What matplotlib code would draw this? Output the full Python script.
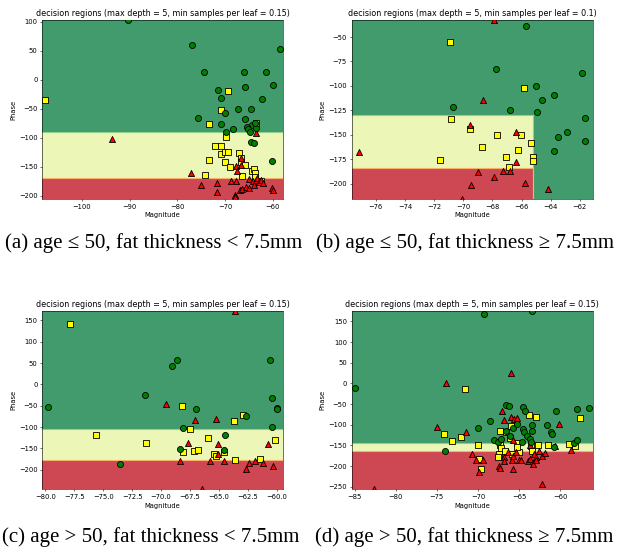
import matplotlib
matplotlib.use("Agg")
import matplotlib.pyplot as plt

# ------------------------------------------------------------
# DATA
# class "low"  -> yellow squares, "high" -> red triangles, "ok" -> green circles
# ------------------------------------------------------------

# (a) age <= 50, fat thickness < 7.5mm
a_sq_x = [-107.8, -69.4, -70.9, -73.4, -63.6, -69.7, -72.1, -70.9, -70.9, -69.9, -69.3, -73.4, -70.1,
          -68.9, -67.1, -66.6, -66.6, -65.9, -66.4, -74.1, -64.3, -64.0, -63.8, -63.8, -62.4]
a_sq_y = [-34.5, -19, -52.3, -76.4, -74, -98.9, -113.8, -113.8, -128.7, -124.7, -124, -139, -142.5,
          -150, -127, -135, -142.5, -146.6, -166.7, -165, -157, -154.6, -161.5, -167, -174.7]
a_tri_x = [-93.6, -77.1, -75.1, -71.7, -71.6, -68.7, -67.6, -67.6, -67.4, -66.7, -66.7, -66.9, -67.8,
           -67.8, -66.4, -65.6, -64.9, -64.9, -64.2, -63.9, -63.5, -63.4, -63.2, -62.8, -62.5, -62.0,
           -60.2, -59.9]
a_tri_y = [-103, -160, -182, -178, -193, -174.7, -174.7, -149, -157.5, -135, -147, -191, -199,
           -201.7, -189, -184.5, -171, -186, -174.7, -181, -92, -173, -170, -176, -173, -177.6,
           -187, -190]
a_circ_x = [-90.4, -76.9, -74.5, -58.4, -66.1, -61.5, -59.9, -65.9, -71.5, -70.8, -62.2, -67.2, -64.5,
            -70.1, -75.6, -65.8, -70.9, -64.4, -65.3, -65.1, -64.8, -63.4, -63.8, -68.3, -69.7,
            -64.5, -63.9, -60.2]
a_circ_y = [103, 59.2, 13.8, 53.4, 12.6, 12.6, -8.6, -12, -17.8, -31, -32.8, -51, -51,
            -58, -66, -68.4, -76.4, -78.7, -82, -85.6, -89.7, -82.8, -74, -85, -89.7,
            -107, -108.6, -140]
a_cut = [-90.7, -169.0]          # green / yellow / red thresholds on phase

# (b) age <= 50, fat thickness >= 7.5mm
b_sq_x = [-70.88, -65.83, -70.81, -69.51, -67.7, -66.01, -68.69, -66.22, -65.35, -71.59, -67.09,
          -65.23, -65.23, -66.88]
b_sq_y = [-55.5, -101.8, -133.9, -144.1, -149.9, -149.9, -162.9, -165.9, -158.8, -176.2, -172.7,
          -172.7, -177.2, -183.3]
b_tri_x = [-67.91, -68.66, -77.14, -69.51, -66.4, -66.4, -68.96, -67.29, -66.79, -67.91, -69.44,
           -65.74, -64.16, -70.1]
b_tri_y = [-32.6, -114.4, -167.6, -140.4, -146.8, -178.2, -188.1, -187.4, -187.4, -193.2, -201,
           -199.7, -205.1, -215.5]
b_circ_x = [-65.71, -67.77, -65.03, -61.87, -64.57, -63.75, -70.72, -66.79, -64.91, -61.62, -62.9,
            -63.47, -61.62, -63.75]
b_circ_y = [-39.1, -83.1, -100.1, -87.2, -114.8, -109.7, -121.6, -125, -127, -133.2, -147.2,
            -152.6, -156.7, -166.6]
b_cut = [-129.4, -184.3]
b_cut_mag = -65.23               # right of this magnitude everything is green

# (c) age > 50, fat thickness < 7.5mm
c_sq_x = [-77.87, -68.16, -67.5, -75.6, -71.3, -65.94, -68.1, -67.2, -66.8, -65.44, -65.26, -64.55,
          -63.7, -62.9, -63.6, -61.44, -60.2]
c_sq_y = [142.2, -51.2, -104.3, -118.3, -137.8, -125.4, -158.9, -156.6, -153.4, -162.8, -168.3,
          -158.1, -84.8, -71.5, -176.8, -174.5, -130]
c_tri_x = [-63.6, -69.57, -67.1, -65.3, -67.7, -65.1, -65.07, -68.33, -65.8, -64.55, -62.71, -62.4,
           -61.85, -61.24, -60.75, -60.3, -66.5]
c_tri_y = [171.5, -45.8, -83.2, -80.1, -137.8, -139.4, -163.6, -180, -178.4, -179.2, -197.1, -184.6,
           -178.4, -184.6, -139.4, -191.6, -245.5]
c_circ_x = [-79.74, -71.38, -68.67, -69.05, -66.97, -68.1, -68.36, -64.47, -64.55, -62.71, -60.58,
            -60.46, -60.0, -60.0, -60.46, -73.51]
c_circ_y = [-53.6, -24.7, 56.4, 43.1, -56.7, -101.2, -151.9, -119.1, -152.7, -73.9, 58,
            -32.5, -54.4, -56.7, -98.8, -186.2]
c_cut = [-103.5, -177.6]

# (d) age > 50, fat thickness >= 7.5mm
d_sq_x = [-71.53, -63.77, -62.88, -57.52, -74.12, -73.1, -72.1, -69.98, -69.86, -69.66, -67.26,
          -66.58, -66.0, -67.26, -67.18, -66.66, -67.43, -67.55, -66.05, -65.2, -65.04, -65.28,
          -65.88, -63.57, -63.37, -62.64, -61.46, -58.86, -58.21]
d_sq_y = [-13.4, -77.1, -81.1, -83.5, -122.1, -139, -128.6, -148.7, -182.5, -206.7, -114.9,
          -118.1, -103.6, -149.5, -156.8, -164, -171.3, -176.9, -132.6, -144.7, -164.8, -154.3,
          -171.3, -150.3, -162.4, -149.5, -149.5, -147.1, -151.1]
d_tri_x = [-73.92, -65.97, -74.93, -71.4, -67.02, -66.8, -66.0, -65.56, -65.28, -60.08, -60.57,
           -58.7, -62.2, -70.71, -70.27, -69.33, -69.9, -67.47, -67.3, -66.8, -66.77, -65.88,
           -65.68, -66.33, -65.68, -65.76, -65.35, -65.0, -64.75, -63.85, -63.6, -63.29, -63.17,
           -62.96, -62.88, -62.52, -62.19, -61.78, -63.65, -82.6]
d_tri_y = [1.9, 25.2, -105.2, -116.5, -66.6, -88.3, -80.3, -86.7, -84.3, -98.8, -150.3,
           -160, -243.7, -169.6, -185.7, -184.9, -213.9, -198.6, -203.5, -176.9, -187.4, -184.9,
           -206.7, -166.4, -174.5, -137.4, -164.8, -184.9, -184.9, -187.4, -182.5, -194.6, -170.5,
           -176.9, -184.9, -162.4, -174.5, -167.2, -148.7, -255.5]
d_circ_x = [-84.92, -69.25, -63.41, -74.04, -69.98, -68.48, -68.1, -67.6, -67.2, -66.58, -66.25,
            -66.6, -66.05, -65.7, -65.2, -64.55, -64.3, -64.55, -64.4, -64.06, -63.65, -63.4,
            -63.37, -63.5, -64.6, -61.54, -61.1, -60.97, -60.53, -60.7, -58.25, -57.89, -57.89,
            -56.5]
d_circ_y = [-11.8, 166.9, 174.5, -162.4, -107.7, -90.7, -137.4, -142.3, -133.4, -52.1, -53.7,
            -114.9, -127, -108.5, -97.2, -57.7, -65.8, -110.1, -117.3, -126.2, -133.4, -99.6,
            -115.7, -140.7, -141.5, -101.2, -116.5, -122.9, -67.4, -154.3, -143.9, -137.4, -61,
            -59.3]
d_cut = [-144.7, -163.2]

captions = [
    "(a) age \u2264 50, fat thickness < 7.5mm",
    "(b) age \u2264 50, fat thickness \u2265 7.5mm",
    "(c) age > 50, fat thickness < 7.5mm",
    "(d) age > 50, fat thickness \u2265 7.5mm",
]
titles = [
    "decision regions (max depth = 5, min samples per leaf = 0.15)",
    "decision regions (max depth = 5, min samples per leaf = 0.1)",
    "decision regions (max depth = 5, min samples per leaf = 0.15)",
    "decision regions (max depth = 5, min samples per leaf = 0.15)",
]

# ------------------------------------------------------------
# STYLE
# ------------------------------------------------------------
GREEN_BG = "#419b6c"
YELLOW_BG = "#ecf6b6"
RED_BG = "#ce4853"

fig = plt.figure(figsize=(6.19, 5.51), dpi=100)

positions = [
    [0.0683, 0.6388, 0.3884, 0.3249],
    [0.5682, 0.6388, 0.3893, 0.3249],
    [0.0683, 0.1120, 0.3884, 0.3236],
    [0.5682, 0.1120, 0.3893, 0.3236],
]
limits = [
    ((-108.3, -57.9), (-205.7, 102.9)),
    ((-77.65, -61.12), (-215.7, -32.6)),
    ((-80.26, -59.5), (-245.5, 171.8)),
    ((-85.37, -56.02), (-255.8, 175.0)),
]
xticks = [range(-100, -59, 10), range(-76, -61, 2),
          [-80.0, -77.5, -75.0, -72.5, -70.0, -67.5, -65.0, -62.5, -60.0], range(-85, -59, 5)]
yticks = [range(-200, 101, 50), range(-200, -49, 25), range(-200, 151, 50), range(-250, 151, 50)]

panels = [
    (a_sq_x, a_sq_y, a_tri_x, a_tri_y, a_circ_x, a_circ_y, a_cut, None),
    (b_sq_x, b_sq_y, b_tri_x, b_tri_y, b_circ_x, b_circ_y, b_cut, b_cut_mag),
    (c_sq_x, c_sq_y, c_tri_x, c_tri_y, c_circ_x, c_circ_y, c_cut, None),
    (d_sq_x, d_sq_y, d_tri_x, d_tri_y, d_circ_x, d_circ_y, d_cut, None),
]

for i, (sx, sy, tx, ty, cx, cy, cut, cut_mag) in enumerate(panels):
    ax = fig.add_axes(positions[i])
    (x0, x1), (y0, y1) = limits[i]
    xe = x1 if cut_mag is None else cut_mag

    # decision regions
    ax.fill_between([x0, x1], cut[0], y1, color=GREEN_BG, lw=0)
    if cut_mag is not None:
        ax.fill_between([cut_mag, x1], y0, y1, color=GREEN_BG, lw=0)
    ax.fill_between([x0, xe], cut[1], cut[0], color=YELLOW_BG, lw=0)
    ax.fill_between([x0, xe], y0, cut[1], color=RED_BG, lw=0)
    ax.plot([x0, xe], [cut[0], cut[0]], color="#8fd08a", lw=0.8)
    ax.plot([x0, xe], [cut[1], cut[1]], color="#f6b26b", lw=0.8)
    if cut_mag is not None:
        ax.plot([cut_mag, cut_mag], [y0, cut[0]], color="#8fd08a", lw=0.8)
        ax.plot([cut_mag, cut_mag], [y0, cut[1]], color="#f6b26b", lw=0.8)

    # samples
    kw = dict(s=19, edgecolors="black", linewidths=0.6, zorder=3, clip_on=True)
    ax.scatter(sx, sy, marker="s", c="yellow", **kw)
    ax.scatter(tx, ty, marker="^", c="red", **kw)
    ax.scatter(cx, cy, marker="o", c="green", **kw)

    ax.set_xlim(x0, x1)
    ax.set_ylim(y0, y1)
    ax.set_xticks(list(xticks[i]))
    ax.set_yticks(list(yticks[i]))
    if i == 2:
        ax.set_xticklabels([f"{v:.1f}".replace("-", "\u2212") for v in xticks[i]])
    ax.tick_params(labelsize=4.9, length=1.7, width=0.4, pad=1.7)
    for sp in ax.spines.values():
        sp.set_linewidth(0.4)
    ax.set_title(titles[i], fontsize=5.8, pad=3)
    ax.set_xlabel("Magnitude", fontsize=4.9, labelpad=1.8)
    ax.set_ylabel("Phase", fontsize=4.9, labelpad=1.8)

# sub-figure captions
cap_font = ["Liberation Serif", "DejaVu Serif"]
cap_size = 15
fig.text(154 / 619, 1 - 243 / 551, captions[0], ha="center", va="center", fontsize=cap_size, family=cap_font)
fig.text(465 / 619, 1 - 243 / 551, captions[1], ha="center", va="center", fontsize=cap_size, family=cap_font)
fig.text(151 / 619, 1 - 537 / 551, captions[2], ha="center", va="center", fontsize=cap_size, family=cap_font)
fig.text(464 / 619, 1 - 537 / 551, captions[3], ha="center", va="center", fontsize=cap_size, family=cap_font)

fig.savefig("out.png", dpi=100)
